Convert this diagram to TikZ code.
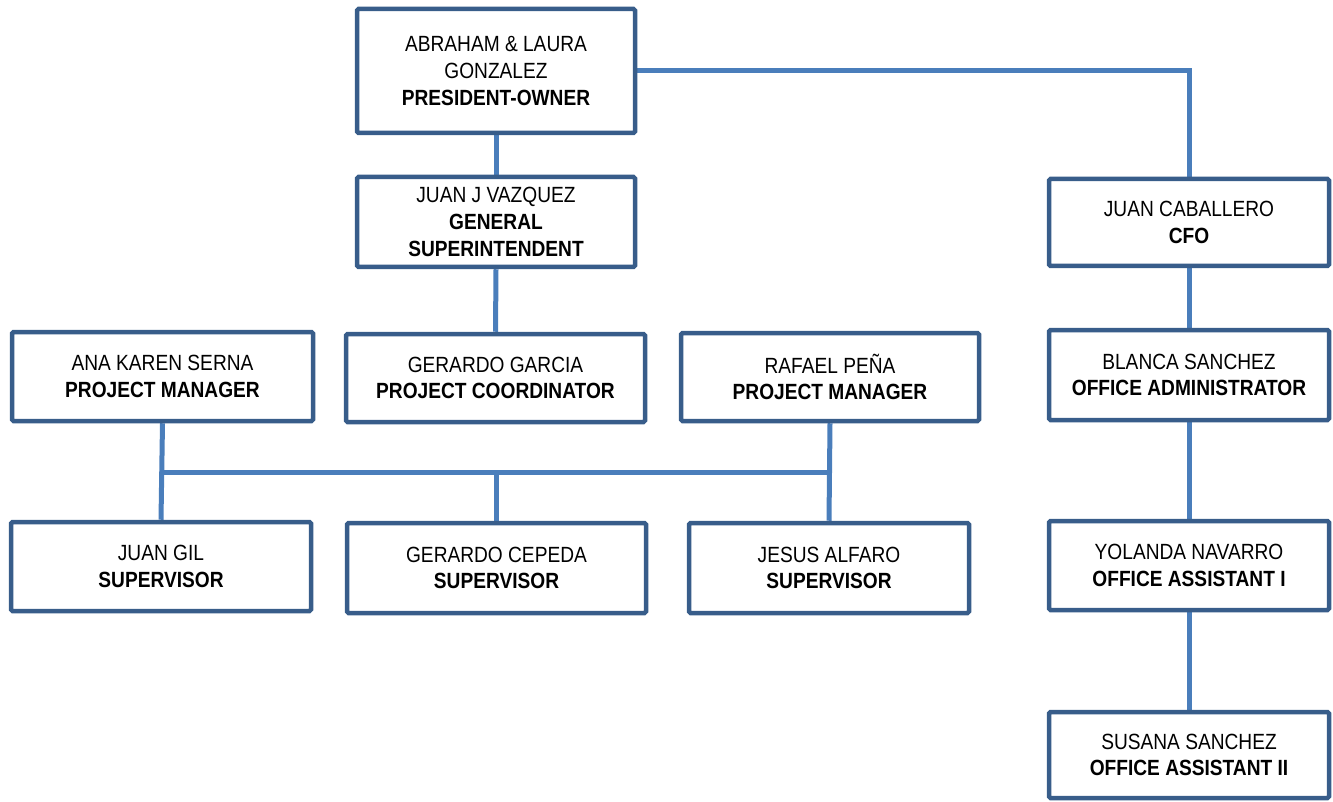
\documentclass[tikz,border=0pt]{standalone}
\usepackage{fontspec}
\setmainfont{Liberation Sans}[FakeStretch=0.87]
\usetikzlibrary{backgrounds}
\definecolor{boxblue}{HTML}{385D8A}
\definecolor{linkblue}{HTML}{4A7EBB}
\tikzset{
  orgbox/.style={draw=boxblue, line width=4.5pt, fill=white, rounded corners=1.5pt,
    align=center, inner sep=0pt, font=\fontsize{22}{26.7}\selectfont},
  link/.style={draw=linkblue, line width=5pt}
}
\begin{document}
\begin{tikzpicture}[x=1pt,y=-1pt]
\useasboundingbox (0,0) rectangle (1333,802);
\node[orgbox, minimum width=278, minimum height=124] (pres) at (496,71)
  {ABRAHAM \& LAURA\\GONZALEZ\\\textbf{PRESIDENT-OWNER}};
\node[orgbox, minimum width=278, minimum height=90] (gen) at (496,222)
  {JUAN J VAZQUEZ\\\textbf{GENERAL}\\\textbf{SUPERINTENDENT}};
\node[orgbox, minimum width=280, minimum height=87] (cfo) at (1189,222.5)
  {JUAN CABALLERO\\\textbf{CFO}};
\node[orgbox, minimum width=301, minimum height=89] (ana) at (162.5,376.5)
  {ANA KAREN SERNA\\\textbf{PROJECT MANAGER}};
\node[orgbox, minimum width=299, minimum height=88] (garcia) at (495.5,378)
  {GERARDO GARCIA\\\textbf{PROJECT COORDINATOR}};
\node[orgbox, minimum width=298, minimum height=88] (rafael) at (830,377)
  {RAFAEL PEÑA\\\textbf{PROJECT MANAGER}};
\node[orgbox, minimum width=280, minimum height=90] (blanca) at (1189,375)
  {BLANCA SANCHEZ\\\textbf{OFFICE ADMINISTRATOR}};
\node[orgbox, minimum width=300, minimum height=89] (gil) at (161,566.5)
  {JUAN GIL\\\textbf{SUPERVISOR}};
\node[orgbox, minimum width=299, minimum height=90] (cepeda) at (496.5,568)
  {GERARDO CEPEDA\\\textbf{SUPERVISOR}};
\node[orgbox, minimum width=280, minimum height=90] (alfaro) at (829,568)
  {JESUS ALFARO\\\textbf{SUPERVISOR}};
\node[orgbox, minimum width=280, minimum height=89] (yolanda) at (1189,565.5)
  {YOLANDA NAVARRO\\\textbf{OFFICE ASSISTANT I}};
\node[orgbox, minimum width=280, minimum height=86] (susana) at (1189,755)
  {SUSANA SANCHEZ\\\textbf{OFFICE ASSISTANT II}};
\coordinate (bus) at (0,472);
\begin{scope}[on background layer]
\draw[link] (pres.south) -- (gen.north);
\draw[link] (pres.east) -| (cfo.north);
\draw[link] (gen.south) -- (garcia.north);
\draw[link] (cfo.south) -- (blanca.north);
\draw[link] (blanca.south) -- (yolanda.north);
\draw[link] (yolanda.south) -- (susana.north);
\draw[link] (ana.south) -- (gil.north);
\draw[link] (rafael.south) -- (alfaro.north);
\draw[link] (ana.south |- bus) -- (rafael.south |- bus);
\draw[link] (cepeda.north |- bus) -- (cepeda.north);
\end{scope}
\end{tikzpicture}
\end{document}
